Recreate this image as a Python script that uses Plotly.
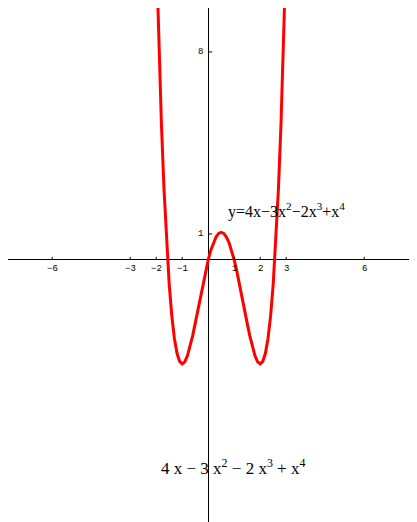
import plotly.graph_objects as go

x_vals = [-2.0, -1.9, -1.8, -1.7, -1.6, -1.5, -1.4, -1.3, -1.2, -1.1, -1.0,
          -0.9, -0.8, -0.7, -0.6, -0.5, -0.4, -0.3, -0.2, -0.1, 0.0,
          0.1, 0.2, 0.3, 0.4, 0.5, 0.6, 0.7, 0.8, 0.9, 1.0,
          1.1, 1.2, 1.3, 1.4, 1.5, 1.6, 1.7, 1.8, 1.9, 2.0,
          2.1, 2.2, 2.3, 2.4, 2.5, 2.6, 2.7, 2.8, 2.9, 3.0]
y_vals = [12.0, 8.32, 5.24, 2.71, 0.67, -0.94, -2.15, -3.02, -3.59, -3.90, -4.0,
          -3.92, -3.69, -3.34, -2.92, -2.44, -1.93, -1.41, -0.90, -0.43, 0.0,
          0.37, 0.67, 0.88, 1.02, 1.06, 1.02, 0.88, 0.67, 0.37, 0.0,
          -0.43, -0.90, -1.41, -1.93, -2.44, -2.92, -3.34, -3.69, -3.92, -4.0,
          -3.90, -3.59, -3.02, -2.15, -0.94, 0.67, 2.71, 5.24, 8.32, 12.0]

xtick_vals = [-6, -3, -2, -1, 1, 2, 3, 6]
ytick_vals = [1, 8]

plot_label = "y=4x\u22123x<sup>2</sup>\u22122x<sup>3</sup>+x<sup>4</sup>"
bottom_label = "4 x \u2212 3 x<sup>2</sup> \u2212 2 x<sup>3</sup> + x<sup>4</sup>"

fig = go.Figure()
fig.add_trace(go.Scatter(x=x_vals, y=y_vals, mode="lines",
                         line=dict(color="#ff0000", width=3),
                         hoverinfo="skip", showlegend=False))

shapes = []
annotations = []
tick_font = dict(family="Liberation Mono, Courier New, monospace", size=9, color="black")
for t in xtick_vals:
    shapes.append(dict(type="line", xref="x", yref="y", ysizemode="pixel",
                       yanchor=0, x0=t, x1=t, y0=0, y1=3,
                       line=dict(color="black", width=1)))
    annotations.append(dict(x=t, y=0, xref="x", yref="y", text=str(t).replace("-", "\u2212"),
                            showarrow=False, yshift=-9, font=tick_font))
for t in ytick_vals:
    shapes.append(dict(type="line", xref="x", yref="y", xsizemode="pixel",
                       xanchor=0, x0=0, x1=4, y0=t, y1=t,
                       line=dict(color="black", width=1)))
    annotations.append(dict(x=0, y=t, xref="x", yref="y", text=str(t),
                            showarrow=False, xanchor="right", xshift=-3, font=tick_font))

annotations.append(dict(x=0.68, y=1.92, xref="x", yref="y", text=plot_label,
                        showarrow=False, xanchor="left", yanchor="middle",
                        font=dict(family="Liberation Serif, Times New Roman, serif",
                                  size=16, color="black")))
annotations.append(dict(x=0.95, y=-7.96, xref="x", yref="y", text=bottom_label,
                        showarrow=False, xanchor="center", yanchor="middle",
                        font=dict(family="Liberation Serif, Times New Roman, serif",
                                  size=17, color="black")))

# the page puts the figure 8px in from the top-left corner, so size it to fit
axis_common = dict(showgrid=False, showticklabels=False, ticks="", zeroline=True,
                   zerolinecolor="black", zerolinewidth=1, showline=False, fixedrange=True)
fig.update_layout(
    width=409, height=514,
    margin=dict(l=0, r=0, t=0, b=0),
    paper_bgcolor="white", plot_bgcolor="white",
    xaxis=dict(range=[-7.70, 8.03], **axis_common),
    yaxis=dict(range=[-10.08, 9.69], **axis_common),
    shapes=shapes, annotations=annotations,
)

fig.write_html("out.html")
